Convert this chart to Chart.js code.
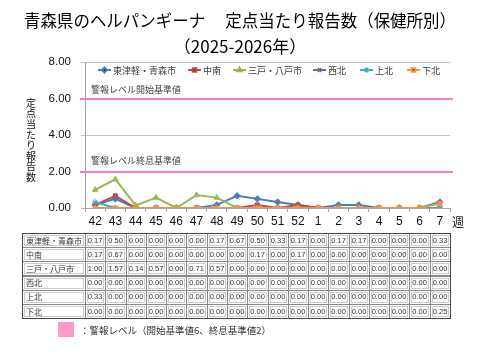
<!DOCTYPE html>
<html><head><meta charset="utf-8">
<script src="https://cdn.jsdelivr.net/npm/chart.js@4/dist/chart.umd.min.js"></script>
<style>html,body{margin:0;padding:0;background:#fff;}#wrap{width:480px;height:360px;}</style>
</head><body><div id="wrap"><canvas id="c" width="480" height="360"></canvas></div>
<script>
const weeks = ['42','43','44','45','46','47','48','49','50','51','52','1','2','3','4','5','6','7'];
const seriesNames = ['東津軽・青森市','中南','三戸・八戸市','西北','上北','下北'];
const higashiTsugaruAomori = [0.17,0.50,0.00,0.00,0.00,0.00,0.17,0.67,0.50,0.33,0.17,0.00,0.17,0.17,0.00,0.00,0.00,0.33];
const chunan = [0.17,0.67,0.00,0.00,0.00,0.00,0.00,0.00,0.17,0.00,0.17,0.00,0.00,0.00,0.00,0.00,0.00,0.00];
const sannoheHachinohe = [1.00,1.57,0.14,0.57,0.00,0.71,0.57,0.00,0.00,0.00,0.00,0.00,0.00,0.00,0.00,0.00,0.00,0.00];
const seihoku = [0.00,0.00,0.00,0.00,0.00,0.00,0.00,0.00,0.00,0.00,0.00,0.00,0.00,0.00,0.00,0.00,0.00,0.00];
const kamikita = [0.33,0.00,0.00,0.00,0.00,0.00,0.00,0.00,0.00,0.00,0.00,0.00,0.00,0.00,0.00,0.00,0.00,0.00];
const shimokita = [0.00,0.00,0.00,0.00,0.00,0.00,0.00,0.00,0.00,0.00,0.00,0.00,0.00,0.00,0.00,0.00,0.00,0.25];
const yTicks = [0,2,4,6,8];
const alertStart = 6;
const alertEnd = 2;
const alertStartLabel = '警報レベル開始基準値';
const alertEndLabel = '警報レベル終息基準値';
const titleLine1 = '青森県のヘルパンギーナ　 定点当たり報告数（保健所別）';
const titleLine2 = '（2025-2026年）';
const yTitle = '定点当たり報告数';
const xUnit = '週';
const alertLegend = '：警報レベル（開始基準値6、終息基準値2）';

const allSeries = [higashiTsugaruAomori, chunan, sannoheHachinohe, seihoku, kamikita, shimokita];
const colors = ['#4A7EBB','#BE4B48','#98B954','#7D60A0','#46AAC5','#F69240'];
const markers = ['rectRot','rect','triangle','crossRot','star','rect'];
const pink = '#F27DC6';
const JP = '"Noto Sans CJK JP", "Noto Sans", sans-serif';
const LAT = '"Liberation Sans", Arial, sans-serif';

const datasets = allSeries.map((d,i)=>({
  label: seriesNames[i], data: d,
  borderColor: colors[i], backgroundColor: colors[i],
  pointBackgroundColor: colors[i], pointBorderColor: colors[i],
  pointStyle: markers[i], pointRadius: (markers[i]==='rect')?2.8:3.2, pointBorderWidth: 1,
  borderWidth: 2, tension: 0, order: allSeries.length - i
}));

const deco = {
  id: 'deco',
  beforeDatasetsDraw(chart){
    const ctx = chart.ctx, y = chart.scales.y, a = chart.chartArea;
    ctx.save();
    ctx.strokeStyle = pink; ctx.lineWidth = 2;
    [alertStart, alertEnd].forEach(v=>{
      const py = Math.round(y.getPixelForValue(v));
      ctx.beginPath(); ctx.moveTo(a.left-5, py); ctx.lineTo(a.right+3, py); ctx.stroke();
    });
    ctx.fillStyle = '#404040'; ctx.font = '9px ' + JP; ctx.textBaseline = 'middle'; ctx.textAlign = 'left';
    ctx.fillText(alertStartLabel, a.left + 6, y.getPixelForValue(alertStart) - 9);
    ctx.fillText(alertEndLabel, a.left + 6, y.getPixelForValue(alertEnd) - 11);
    ctx.restore();
  },
  afterDraw(chart){
    const ctx = chart.ctx, x = chart.scales.x, y = chart.scales.y, a = chart.chartArea;
    ctx.save();
    ctx.fillStyle = '#000'; ctx.textAlign = 'center'; ctx.textBaseline = 'middle';
    ctx.font = '17px ' + JP;
    ctx.fillText(titleLine1, 240, 21, 432);
    ctx.fillText(titleLine2, 240, 47);
    ctx.font = '10px ' + JP; ctx.fillStyle = '#111';
    for (let i=0;i<yTitle.length;i++){ ctx.fillText(yTitle[i], 31, 103 + i*10.6); }
    ctx.font = '12px ' + JP; ctx.fillStyle = '#222';
    ctx.fillText(xUnit, 458, 222);
    const starts = [98,188,233,313,360,407];
    ctx.font = '9px ' + JP; ctx.textAlign = 'left';
    chart.data.datasets.forEach((ds,i)=>{
      const lx = starts[i], ly = 70;
      ctx.strokeStyle = ds.borderColor; ctx.lineWidth = 2;
      ctx.beginPath(); ctx.moveTo(lx, ly); ctx.lineTo(lx+13, ly); ctx.stroke();
      Chart.helpers.drawPoint(ctx, {pointStyle: ds.pointStyle, radius: 2.5, rotation: 0, borderWidth: 1}, lx+6.5, ly);
      ctx.fillStyle = '#404040';
      ctx.fillText(ds.label, lx+15, ly+1);
    });
    const tLeft = 22, tTop = 233, rowH = 14.2;
    const colW = (a.right - a.left) / weeks.length;
    const nRows = chart.data.datasets.length;
    ctx.lineWidth = 1;
    for (let r=0;r<nRows;r++){
      const ry = tTop + r*rowH;
      ctx.strokeStyle = '#888';
      ctx.strokeRect(tLeft+0.5, Math.round(ry)+0.5, a.left - tLeft, Math.round(rowH));
      ctx.strokeStyle = '#ccc';
      ctx.strokeRect(tLeft+2.5, Math.round(ry)+2.5, a.left - tLeft - 4, Math.round(rowH)-4);
      ctx.fillStyle = '#333'; ctx.font = '8px ' + JP; ctx.textAlign = 'left'; ctx.textBaseline = 'middle';
      ctx.fillText(chart.data.datasets[r].label, tLeft + 4, ry + rowH/2 + 0.5, a.left - tLeft - 7);
      ctx.font = '7.5px ' + LAT; ctx.textAlign = 'center';
      chart.data.datasets[r].data.forEach((v,c)=>{
        const cx0 = Math.round(a.left + c*colW);
        const cx1 = Math.round(a.left + (c+1)*colW);
        ctx.strokeStyle = '#888';
        ctx.strokeRect(cx0+0.5, Math.round(ry)+0.5, cx1-cx0, Math.round(rowH));
        ctx.strokeStyle = '#ccc';
        ctx.strokeRect(cx0+2.5, Math.round(ry)+2.5, cx1-cx0-4, Math.round(rowH)-4);
        ctx.fillStyle = '#333';
        ctx.fillText(v.toFixed(2), (cx0+cx1)/2, ry + rowH/2 + 0.5);
      });
    }
    ctx.strokeStyle = '#444';
    ctx.strokeRect(tLeft+0.5, tTop+0.5, Math.round(a.right) - tLeft, Math.round(rowH*nRows));
    ctx.fillStyle = '#FF99CC';
    ctx.fillRect(58, 322, 16, 15);
    ctx.fillStyle = '#333'; ctx.font = '9.5px ' + JP; ctx.textAlign = 'left';
    ctx.fillText(alertLegend, 80, 330);
    ctx.restore();
  }
};

new Chart(document.getElementById('c'), {
  type: 'line',
  data: { labels: weeks, datasets },
  options: {
    responsive: false, animation: false, devicePixelRatio: 1,
    layout: { padding: { left: 0, right: 30, top: 62, bottom: 0 } },
    plugins: { legend: { display: false }, tooltip: { enabled: false }, title: { display: false } },
    scales: {
      x: {
        offset: true,
        grid: { display: true, drawOnChartArea: false, offset: true, tickLength: 4, color: '#A6A6A6' },
        border: { color: '#A6A6A6' },
        ticks: { color: '#111', font: { family: LAT, size: 12 }, padding: 2, maxRotation: 0, autoSkip: false },
        afterFit(s){ s.height = 152; }
      },
      y: {
        min: 0, max: 8,
        afterBuildTicks(s){ s.ticks = yTicks.map(v=>({value:v})); },
        grid: { color: '#BFBFBF', tickLength: 4 },
        border: { color: '#A6A6A6' },
        ticks: { color: '#111', font: { family: LAT, size: 11.5 }, padding: 10, callback: v => Number(v).toFixed(2) },
        afterFit(s){ s.width = 85; }
      }
    }
  },
  plugins: [deco]
});
</script></body></html>
